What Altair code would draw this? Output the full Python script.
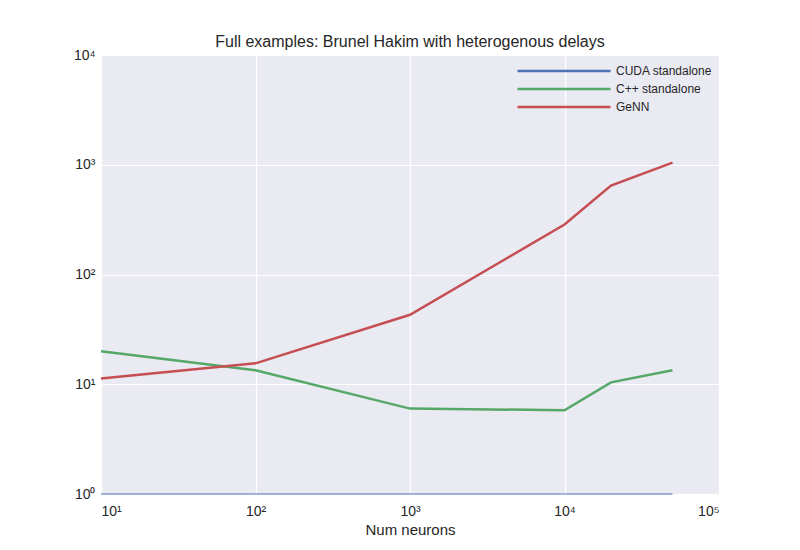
import altair as alt
import pandas as pd

neurons = [10, 100, 1000, 10000, 20000, 50000]
cuda = [1, 1, 1, 1, 1, 1]
cpp = [20.0, 13.4, 6.0, 5.8, 10.4, 13.4]
genn = [11.3, 15.5, 43.0, 285.0, 645.0, 1045.0]
series = ["CUDA standalone", "C++ standalone", "GeNN"]
colors = ["#4C72B0", "#55A868", "#C44E52"]

rows = []
for name, vals in zip(series, [cuda, cpp, genn]):
    for n, v in zip(neurons, vals):
        rows.append({"n": n, "t": v, "s": name, "w": 1 if name == series[0] else 2.5})
df = pd.DataFrame(rows)

sup = "'10' + ['⁰','¹','²','³','⁴','⁵'][round(log(datum.value)/LN10)]"

chart = (
    alt.Chart(df)
    .mark_line()
    .encode(
        x=alt.X("n:Q", title="Num neurons",
                scale=alt.Scale(type="log", domain=[10, 100000]),
                axis=alt.Axis(values=[10, 100, 1000, 10000, 100000], labelExpr=sup,
                              labelPadding=10)),
        y=alt.Y("t:Q", title=None,
                scale=alt.Scale(type="log", domain=[1, 10000]),
                axis=alt.Axis(values=[1, 10, 100, 1000, 10000], labelExpr=sup)),
        color=alt.Color("s:N", sort=series,
                        scale=alt.Scale(domain=series, range=colors),
                        legend=alt.Legend(title=None, orient="none", legendX=415, legendY=7,
                                          symbolType="stroke", symbolSize=8649,
                                          symbolStrokeWidth=2.5, labelFontSize=12,
                                          clipHeight=18, rowPadding=0,
                                          labelColor="#262626")),
        strokeWidth=alt.StrokeWidth("w:Q", scale=None, legend=None),
        detail="s:N",
    )
    .properties(
        width=618, height=439,
        title=alt.TitleParams("Full examples: Brunel Hakim with heterogenous delays",
                              fontSize=16, fontWeight="normal", color="#262626", offset=-2),
        autosize=alt.AutoSizeParams(type="none"),
        padding={"left": 93, "top": 47, "right": 73, "bottom": 48},
    )
    .configure(font="Liberation Sans")
    .configure_view(fill="#EAEAF2", stroke=None)
    .configure_axis(grid=True, gridColor="white", gridWidth=1.2, domain=False, ticks=False,
                    labelFontSize=14, labelColor="#262626", titleColor="#262626",
                    titleFontSize=15, titleFontWeight="normal", labelPadding=6)
)

chart.save("out.html", embed_options={"renderer": "svg", "actions": False})
